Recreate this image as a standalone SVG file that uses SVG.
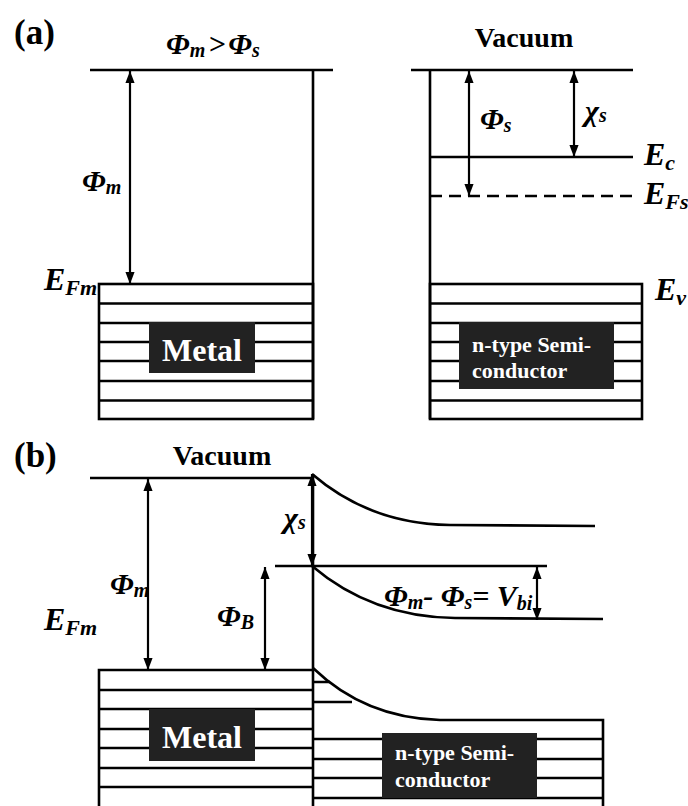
<svg xmlns="http://www.w3.org/2000/svg" width="688" height="806" viewBox="0 0 688 806">
<style>
.ln{stroke:#000;stroke-width:2.6;fill:none}
.ar{stroke:#000;stroke-width:2.2;fill:none;marker-start:url(#ah);marker-end:url(#ah)}
.dash{stroke:#000;stroke-width:2.6;fill:none;stroke-dasharray:12 7}
.lbl{font-family:"Liberation Serif","Times New Roman",serif;font-weight:bold;fill:#000}
.sym{font-family:"Liberation Serif","Times New Roman",serif;font-weight:bold;font-style:italic;fill:#000;font-size:30px}
.e{font-family:"Liberation Serif","Times New Roman",serif;font-weight:bold;font-style:italic;fill:#000;font-size:32px}
.box{fill:#222}
.wt{font-family:"Liberation Serif","Times New Roman",serif;font-weight:bold;fill:#fff}
</style>
<defs>
<marker id="ah" viewBox="0 0 10 10" refX="10" refY="5" markerWidth="5.5" markerHeight="4.2" orient="auto-start-reverse" markerUnits="strokeWidth" preserveAspectRatio="none">
<path d="M0,0 L10,5 L0,10 z" fill="#000"/>
</marker>
</defs>
<rect width="688" height="806" fill="#fff"/>

<text class="lbl" x="14" y="44" font-size="35">(a)</text>
<text class="lbl" x="14" y="467" font-size="35">(b)</text>

<g id="a-title">
<text class="sym" x="166" y="54">Φ<tspan font-size="20" dy="3">m</tspan><tspan dy="-3" dx="3">&gt;</tspan><tspan dx="3">Φ</tspan><tspan font-size="20" dy="3">s</tspan></text>
</g>
<g id="a-vacuum-label"><text class="lbl" x="524" y="47" font-size="28" text-anchor="middle">Vacuum</text></g>

<g id="a-metal">
<line class="ln" x1="90" y1="70" x2="333" y2="70"/>
<line class="ln" x1="313" y1="70" x2="313" y2="419"/>
<rect class="ln" x="99" y="284" width="214" height="135"/>
<path class="ln" d="M99,303.5H313M99,323H313M99,342H313M99,361H313M99,381H313M99,400.5H313"/>
<rect class="box" x="149" y="322" width="106" height="51"/>
<text class="wt" x="202" y="361" font-size="32" text-anchor="middle">Metal</text>
<text class="e" x="44" y="290">E<tspan font-size="22" dy="5">Fm</tspan></text>
</g>

<g id="a-semiconductor">
<line class="ln" x1="411" y1="70" x2="633" y2="70"/>
<line class="ln" x1="430" y1="70" x2="430" y2="419"/>
<line class="ln" x1="430" y1="157" x2="633" y2="157"/>
<line class="dash" x1="430" y1="196" x2="633" y2="196"/>
<rect class="ln" x="430" y="284" width="212" height="135"/>
<path class="ln" d="M430,303.5H642M430,323H642M430,342H642M430,361H642M430,381H642M430,400.5H642"/>
<rect class="box" x="459" y="322" width="155" height="67"/>
<text class="wt" x="472" y="352" font-size="22">n-type Semi-</text>
<text class="wt" x="472" y="378" font-size="22">conductor</text>
<text class="e" x="644" y="165">E<tspan font-size="22" dy="5">c</tspan></text>
<text class="e" x="644" y="204">E<tspan font-size="22" dy="5">Fs</tspan></text>
<text class="e" x="655" y="300">E<tspan font-size="22" dy="5">v</tspan></text>
</g>

<g id="a-labels">
<text class="sym" x="82" y="191">Φ<tspan font-size="20" dy="3">m</tspan></text>
<text class="sym" x="480" y="129">Φ<tspan font-size="20" dy="3">s</tspan></text>
<text class="sym" x="585" y="121">χ<tspan font-size="20" dy="1">s</tspan></text>
</g>

<g id="b-vacuum-label"><text class="lbl" x="222" y="465" font-size="28" text-anchor="middle">Vacuum</text></g>

<g id="b-metal">
<line class="ln" x1="90" y1="478" x2="312" y2="478"/>
<line class="ln" x1="275" y1="566" x2="547" y2="566"/>
<path class="ln" d="M99,806V670H312"/>
<path class="ln" d="M99,690H312M99,709H312M99,729H312M99,748H312M99,768H312M99,787H312"/>
<rect class="box" x="149" y="709" width="106" height="52"/>
<text class="wt" x="202" y="748" font-size="32" text-anchor="middle">Metal</text>
<text class="e" x="44" y="630">E<tspan font-size="22" dy="5">Fm</tspan></text>
</g>

<g id="b-semiconductor">
<line class="ln" x1="313" y1="474" x2="313" y2="806"/>
<path class="ln" d="M312,474 Q370,524 450,525 L595,526"/>
<path class="ln" d="M312,566 Q372,617 455,618 L603,619"/>
<path class="ln" d="M313,668 Q365,718 440,720 L603,720 V806"/>
<path class="ln" d="M313,682H330M313,702H352"/>
<path class="ln" d="M313,739H603M313,759H603M313,778H603M313,798H603"/>
<rect class="box" x="382" y="733" width="155" height="65"/>
<text class="wt" x="395" y="760" font-size="22">n-type Semi-</text>
<text class="wt" x="395" y="787" font-size="22">conductor</text>
</g>

<g id="b-labels">
<text class="sym" x="284" y="528">χ<tspan font-size="20" dy="1">s</tspan></text>
<text class="sym" x="110" y="594">Φ<tspan font-size="20" dy="3">m</tspan></text>
<text class="sym" x="217" y="626">Φ<tspan font-size="20" dy="3">B</tspan></text>
<text class="sym" x="384" y="606" font-size="29">Φ<tspan font-size="20" dy="3">m</tspan><tspan dy="-3">- </tspan>Φ<tspan font-size="20" dy="3">s</tspan><tspan dy="-3">= V</tspan><tspan font-size="20" dy="4">bi</tspan></text>
</g>

<g id="connectors">
<line class="ar" x1="130" y1="71" x2="130" y2="284"/>
<line class="ar" x1="469" y1="71" x2="469" y2="196"/>
<line class="ar" x1="574" y1="71" x2="574" y2="157"/>
<line class="ar" x1="148" y1="479" x2="148" y2="670"/>
<line class="ar" x1="312" y1="474" x2="312" y2="566"/>
<line class="ar" x1="265" y1="567" x2="265" y2="670"/>
<line class="ar" x1="537" y1="567" x2="537" y2="620"/>
</g>
</svg>
